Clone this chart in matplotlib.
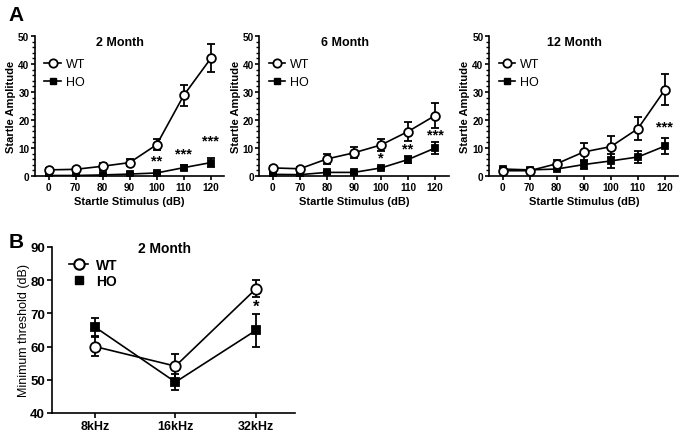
import matplotlib
matplotlib.use("Agg")
import matplotlib.pyplot as plt
from matplotlib.lines import Line2D
from matplotlib.ticker import MultipleLocator
import numpy as np

plt.rcParams['font.family'] = ['Liberation Sans', 'DejaVu Sans']

# ---------------- data ----------------
stimulus = ["0", "70", "80", "90", "100", "110", "120"]

titles_a = ["2 Month", "6 Month", "12 Month"]

wt_2m = [2.2, 2.4, 3.5, 4.8, 11.2, 28.8, 42.0]
wt_2m_err = [0.5, 0.5, 1.2, 1.3, 2.0, 3.7, 5.0]
ho_2m = [0.2, 0.2, 0.4, 0.7, 1.1, 3.0, 4.8]
ho_2m_err = [0.3, 0.3, 0.4, 0.5, 0.5, 1.0, 1.5]
stars_2m = {4: "**", 5: "***", 6: "***"}
stars_2m_y = {4: 5.4, 5: 8.2, 6: 12.6}

wt_6m = [2.9, 2.6, 6.1, 8.3, 11.1, 15.9, 21.6]
wt_6m_err = [0.6, 0.5, 1.8, 2.0, 2.3, 3.5, 4.5]
ho_6m = [0.6, 0.5, 1.3, 1.3, 2.9, 5.9, 10.0]
ho_6m_err = [0.4, 0.4, 0.5, 0.5, 0.5, 1.2, 2.0]
stars_6m = {4: "*", 5: "**", 6: "***"}
stars_6m_y = {4: 6.7, 5: 9.7, 6: 15.0}

wt_12m = [1.9, 1.9, 4.4, 8.6, 10.5, 16.9, 30.8]
wt_12m_err = [0.5, 0.5, 1.3, 3.2, 3.7, 4.0, 5.5]
ho_12m = [2.5, 2.2, 2.5, 4.1, 5.4, 6.8, 10.7]
ho_12m_err = [0.5, 0.5, 0.5, 1.5, 2.5, 2.0, 3.0]
stars_12m = {6: "***"}
stars_12m_y = {6: 17.6}

freqs = ["8kHz", "16kHz", "32kHz"]
wt_thr = [60.0, 54.1, 77.4]
wt_thr_err = [3.0, 3.8, 2.5]
ho_thr = [65.9, 49.3, 64.9]
ho_thr_err = [2.7, 2.4, 5.0]
stars_b = {2: "*"}
stars_b_y = {2: 72.0}

# ---------------- figure ----------------
fig = plt.figure(figsize=(6.86, 4.35), dpi=100)

LW = 1.2
BOLD = 'bold'


def style_axes(ax, size, length=3.5, pad=1.5):
    for s in ['top', 'right']:
        ax.spines[s].set_visible(False)
    for s in ['left', 'bottom']:
        ax.spines[s].set_linewidth(1.2)
    ax.tick_params(axis='both', which='major', direction='out', width=1.2,
                   length=length, labelsize=size, pad=pad)
    for lab in ax.get_xticklabels() + ax.get_yticklabels():
        lab.set_fontweight(BOLD)


def plot_series(ax, x, y, e, marker, mfc, ms):
    ax.errorbar(x, y, yerr=e, color='black', lw=LW, marker=marker, ms=ms,
                mfc=mfc, mec='black', mew=1.3, capsize=2.8, capthick=1.3,
                elinewidth=1.3, zorder=3)


panel_a = [
    (0.051, wt_2m, wt_2m_err, ho_2m, ho_2m_err, stars_2m, stars_2m_y),
    (0.378, wt_6m, wt_6m_err, ho_6m, ho_6m_err, stars_6m, stars_6m_y),
    (0.713, wt_12m, wt_12m_err, ho_12m, ho_12m_err, stars_12m, stars_12m_y),
]

for i, (left, wt, wte, ho, hoe, st, sty) in enumerate(panel_a):
    ax = fig.add_axes([left, 0.593, 0.276, 0.322])
    x = np.arange(len(stimulus))
    plot_series(ax, x, ho, hoe, 's', 'black', 5)
    plot_series(ax, x, wt, wte, 'o', 'white', 6.3)
    for k, s in st.items():
        ax.text(x[k], sty[k], s, ha='center', va='center', fontsize=10.5,
                fontweight=BOLD)
    ax.set_xlim(-0.5, 6.5)
    ax.set_ylim(0, 50)
    ax.set_xticks(x)
    ax.set_xticklabels(stimulus)
    ax.set_yticks([0, 10, 20, 30, 40, 50])
    ax.yaxis.set_minor_locator(MultipleLocator(2))
    ax.tick_params(axis='y', which='minor', direction='out', width=1.0, length=2)
    style_axes(ax, 7.2, length=3, pad=1)
    ax.set_ylabel("Startle Amplitude", fontsize=8, fontweight=BOLD, va='center')
    ax.yaxis.set_label_coords(-0.125, 0.5)
    ax.set_xlabel("Startle Stimulus (dB)", fontsize=8, fontweight=BOLD, labelpad=3)
    ax.text(0.45, 0.955, titles_a[i], transform=ax.transAxes, ha='center',
            va='center', fontsize=9, fontweight=BOLD)
    handles = [Line2D([], [], color='black', lw=LW, marker='o', mfc='white',
                      mec='black', mew=1.3, ms=6),
               Line2D([], [], color='black', lw=LW, marker='s', mfc='black',
                      mec='black', ms=5)]
    ax.legend(handles, ["WT", "HO"], loc='upper left',
              bbox_to_anchor=(0.05, 0.84), frameon=False, fontsize=9,
              handlelength=1.3, handletextpad=0.4, labelspacing=0.45,
              borderpad=0, borderaxespad=0)

fig.text(0.012, 0.965, "A", fontsize=15, fontweight=BOLD, va='center')
fig.text(0.012, 0.443, "B", fontsize=15, fontweight=BOLD, va='center')

# ---------------- panel B ----------------
axb = fig.add_axes([0.0758, 0.0483, 0.354, 0.382])
xb = np.arange(len(freqs))
plot_series(axb, xb, ho_thr, ho_thr_err, 's', 'black', 5.5)
plot_series(axb, xb, wt_thr, wt_thr_err, 'o', 'white', 7.5)
for k, s in stars_b.items():
    axb.text(xb[k], stars_b_y[k], s, ha='center', va='center', fontsize=12,
             fontweight=BOLD)
axb.set_xlim(-0.53, 2.48)
axb.set_ylim(40, 90)
axb.set_xticks(xb)
axb.set_xticklabels(freqs)
axb.set_yticks([40, 50, 60, 70, 80, 90])
style_axes(axb, 9.5)
for lab in axb.get_xticklabels():
    lab.set_fontsize(9)
axb.set_ylabel("Minimum threshold (dB)", fontsize=9, fontweight='normal',
               va='center')
axb.yaxis.set_label_coords(-0.115, 0.5)
axb.text(0.465, 0.99, "2 Month", transform=axb.transAxes, ha='center',
         va='center', fontsize=10, fontweight=BOLD)
hb = [Line2D([], [], color='black', lw=LW, marker='o', mfc='white',
             mec='black', mew=1.5, ms=7.5),
      Line2D([], [], color='black', lw=0, marker='s', mfc='black',
             mec='black', ms=5.5)]
axb.legend(hb, ["WT", "HO"], loc='upper left', bbox_to_anchor=(0.072, 0.935),
           frameon=False, prop={'size': 10, 'weight': 'bold'},
           handlelength=1.3, handletextpad=0.6, labelspacing=0.15,
           borderpad=0, borderaxespad=0)

fig.savefig("out.png", dpi=100)
